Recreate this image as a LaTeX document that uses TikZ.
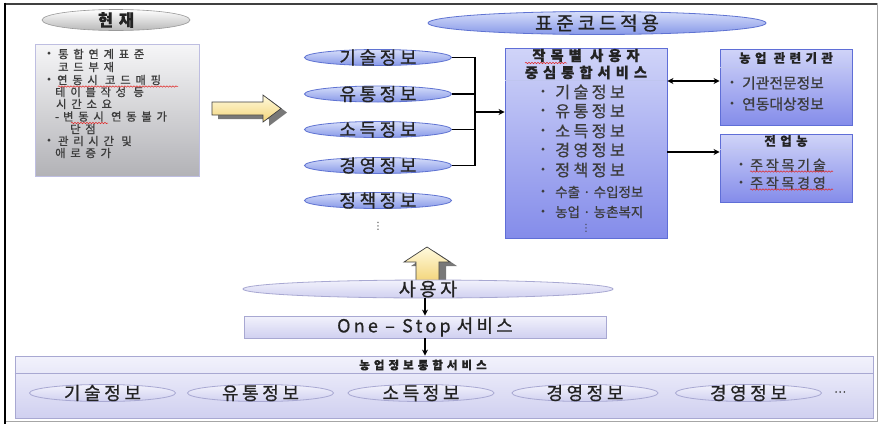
\documentclass[tikz,border=0pt]{standalone}
\usepackage{fontspec}
\newfontfamily\kr[FakeBold=0.8]{Noto Sans CJK KR}
\newfontfamily\krs[LetterSpace=20,FakeBold=0.8]{Noto Sans CJK KR}
\newfontfamily\krw[LetterSpace=35,FakeBold=0.5]{Noto Sans CJK KR}
\newfontfamily\krg[LetterSpace=42,FakeBold=0.9]{Noto Sans CJK KR}
\newfontfamily\krm[LetterSpace=18,FakeBold=0.6]{Noto Sans CJK KR}
\newfontfamily\dv{DejaVu Sans}
\usetikzlibrary{shapes.geometric,arrows.meta,decorations.pathmorphing}
\definecolor{ellTop}{RGB}{214,222,250}
\definecolor{ellBot}{RGB}{135,152,232}
\definecolor{ellBorder}{RGB}{95,115,210}
\definecolor{svcTop}{RGB}{208,212,248}
\definecolor{svcBot}{RGB}{132,140,234}
\definecolor{svcBorder}{RGB}{95,110,215}
\definecolor{grayTop}{RGB}{246,246,248}
\definecolor{grayBot}{RGB}{178,178,182}
\definecolor{grayBorder}{RGB}{190,190,225}
\definecolor{lavTop}{RGB}{242,242,252}
\definecolor{lavBot}{RGB}{208,208,240}
\definecolor{lavBorder}{RGB}{168,168,210}
\definecolor{yelTop}{RGB}{255,250,222}
\definecolor{yelBot}{RGB}{243,212,120}
\definecolor{txtDark}{RGB}{35,35,35}
\definecolor{txtGray}{RGB}{60,60,60}
\definecolor{shadowGray}{RGB}{120,120,120}
\definecolor{spellRed}{RGB}{225,40,40}
\begin{document}
\begin{tikzpicture}[x=1pt,y=-1pt,
  ellTxt/.style={font={\krs\fontsize{18}{18}\selectfont}, text=txtDark, inner sep=0pt},
  blueell/.style={ellipse, draw=ellBorder, line width=0.8pt, top color=ellTop, bottom color=ellBot,
    inner sep=0pt, minimum width=147pt, minimum height=16pt, label={[ellTxt]center:#1}},
  lavell/.style={ellipse, draw=lavBorder, line width=0.8pt, top color=lavTop, bottom color=lavBot,
    inner sep=0pt, minimum width=146pt, minimum height=17pt, label={[ellTxt]center:#1}},
  bluebox/.style={draw=svcBorder, line width=0.9pt, top color=svcTop, bottom color=svcBot, inner sep=0pt},
  lavbox/.style={draw=lavBorder, line width=0.8pt, top color=lavTop, bottom color=lavBot, inner sep=0pt},
  sepline/.style={draw=white!60!svcBorder, line width=0.8pt},
  bigitem/.style={font={\krs\fontsize{16.3}{17}\selectfont}, text=txtGray, anchor=west, inner sep=0pt},
  smallitem/.style={font={\kr\fontsize{13.5}{14}\selectfont}, text=txtGray, anchor=west, inner sep=0pt},
  rightitem/.style={font={\kr\fontsize{14.8}{15}\selectfont}, text=txtGray, anchor=west, inner sep=0pt},
  rightitemsp/.style={font={\krs\fontsize{14}{14}\selectfont}, text=txtGray, anchor=west, inner sep=0pt},
  bul/.style={font={\kr\fontsize{11}{12}\selectfont}, text=txtGray, inner sep=0pt},
  graytxt/.style={font={\krg\fontsize{11.3}{12}\selectfont}, text=txtGray, anchor=west, inner sep=0pt},
  hdr/.style={font={\krw\bfseries\fontsize{12.5}{13}\selectfont}, text=txtDark, inner sep=0pt},
  vdots/.style={font={\dv\fontsize{10}{11}\selectfont}, text=txtGray, inner sep=0pt},
  conn/.style={draw=black, line width=1.3pt},
  tip/.style={-{Stealth[length=6pt,width=6pt]}},
  spell/.style={draw=spellRed, line width=0.5pt, decorate, decoration={snake, amplitude=0.7pt, segment length=3pt}},
  yel/.style={draw=black!75, line width=0.7pt, top color=yelTop, bottom color=yelBot},
  shade/.style={fill=shadowGray}
]
\useasboundingbox (0,0) rectangle (881,426);
\fill[white] (0,0) rectangle (881,426);

% frame
\draw[line width=1pt, draw=black!35] (877,3) -- (877,421) -- (5,421);
\draw[line width=2pt, draw=black!75] (5,3.5) -- (877,3.5);
\draw[line width=2.5pt] (5,2.5) -- (5,424);

% ---- current state (left)
\node[ellipse, draw=black!40, line width=0.6pt, top color=white, bottom color=black!28,
  minimum width=148pt, minimum height=21pt, inner sep=0pt,
  label={[font={\krw\bfseries\fontsize{16.5}{17}\selectfont}, text=txtDark, inner sep=0pt]center:현재}] (now) at (116,20) {};

\node[draw=grayBorder, line width=0.8pt, top color=grayTop, bottom color=grayBot,
  minimum width=164pt, minimum height=132pt, inner sep=0pt] (cur) at (117,110) {};
\node[bul] (b1) at (49,54) {•};
\node[graytxt] (c1) at (58,54) {통합연계표준};
\node[graytxt] (c2) at (58,67) {코드부재};
\node[bul] (b2) at (49,80) {•};
\node[graytxt] (c3) at (57,80) {연동시 코드매핑};
\node[graytxt] (c4) at (55,92) {테이블작성 등};
\node[graytxt] (c5) at (56,104) {시간소요};
\node[graytxt] (c6) at (55,116.5) {-\hspace{4pt}변동시 연동불가};
\node[graytxt] (c7) at (70,129) {단점};
\node[bul] (b3) at (49,141) {•};
\node[graytxt] (c8) at (58,141) {관리시간 및};
\node[graytxt] (c9) at (55,153) {애로증가};
\draw[spell] (58,86.5) -- (178,86.5);
\draw[spell] (71,123) -- (108,123);

% yellow right arrow
\fill[shade] (218,106) -- (269,106) -- (269,99) -- (287,112.5) -- (269,126) -- (269,119) -- (218,119) -- cycle;
\path[yel] (212,102) -- (263,102) -- (263,95) -- (281,108.5) -- (263,122) -- (263,115) -- (212,115) -- cycle;

% ---- standard code applied
\node[ellipse, draw=ellBorder, line width=0.8pt, top color=ellTop, bottom color=ellBot,
  minimum width=338pt, minimum height=23pt, inner sep=0pt,
  label={[font={\krs\fontsize{19}{19}\selectfont}, text=txtDark, inner sep=0pt]center:표준코드적용}] (std) at (597,23) {};

\node[blueell=기술정보] (e1) at (378,57.5) {};
\node[blueell=유통정보] (e2) at (378,94) {};
\node[blueell=소득정보] (e3) at (378,129.5) {};
\node[blueell=경영정보] (e4) at (378,165.5) {};
\node[blueell=정책정보] (e5) at (378,200.5) {};
\node[vdots] (edots) at (378,226) {⋮};

% big service box
\node[bluebox, minimum width=162pt, minimum height=190pt] (svc) at (586,143) {};
\draw[sepline] (svc.west |- 0,80) -- (svc.east |- 0,80);
\node[font={\krw\bfseries\fontsize{14.3}{17}\selectfont}, text=txtDark, align=center, inner sep=0pt] (svch) at (586,64) {작목별 사용자\\중심통합서비스};
\draw[spell] (525,63) -- (567,63);
\foreach \y/\t [count=\i] in {92/기술정보,111/유통정보,131/소득정보,150/경영정보,170/정책정보}{
  \node[bul] (sb\i) at (543,\y) {•};
  \node[bigitem] (si\i) at (555,\y) {\t};
}
\node[bul] (sb6) at (543,192) {•};
\node[smallitem] (si6) at (555,192) {수출 · 수입정보};
\node[bul] (sb7) at (543,212) {•};
\node[smallitem] (si7) at (555,212) {농업 · 농촌복지};
\node[vdots] (sdots) at (586,228) {⋮};

% connectors from ellipses
\coordinate (j) at (475,112);
\draw[conn] (e1.east) -| (j);
\draw[conn] (e2.east) -| (j);
\draw[conn] (e3.east) -| (j);
\draw[conn] (e4.east) -| (j);
\draw[conn, tip] (j) -- (svc.west |- j);

% right boxes
\node[bluebox, minimum width=132pt, minimum height=76pt] (org) at (786,87) {};
\draw[sepline] (org.west |- 0,67) -- (org.east |- 0,67);
\node[hdr] (orgh) at (786,58) {농업 관련기관};
\node[bul] (ob1) at (732,83) {•};
\node[rightitem] (oi1) at (742,83) {기관전문정보};
\node[bul] (ob2) at (732,104) {•};
\node[rightitem] (oi2) at (742,104) {연동대상정보};

\node[bluebox, minimum width=132pt, minimum height=68pt] (farm) at (786,168) {};
\draw[sepline] (farm.west |- 0,149) -- (farm.east |- 0,149);
\node[hdr] (farmh) at (786,141) {전업농};
\node[bul] (fb1) at (741,165) {•};
\node[rightitemsp] (fi1) at (750,165) {주작목기술};
\node[bul] (fb2) at (741,183) {•};
\node[rightitemsp] (fi2) at (750,183) {주작목경영};
\draw[spell] (750,171.5) -- (833,171.5);
\draw[spell] (750,189.5) -- (833,189.5);

\draw[conn, {Stealth[length=6pt,width=6pt]}-{Stealth[length=6pt,width=6pt]}] (svc.east |- 0,81) -- (org.west |- 0,81);
\draw[conn, tip] (svc.east |- 0,152) -- (farm.west |- 0,152);

% yellow up arrow
\begin{scope}[shift={(7,4)}]
\fill[shade] (427,247) -- (450,262) -- (439,262) -- (439,282) -- (416,282) -- (416,262) -- (404,262) -- cycle;
\end{scope}
\path[yel] (427,247) -- (450,262) -- (439,262) -- (439,282) -- (416,282) -- (416,262) -- (404,262) -- cycle;

% ---- bottom part
\node[ellipse, draw=lavBorder, line width=0.8pt, top color=lavTop, bottom color=lavBot,
  minimum width=370pt, minimum height=18pt, inner sep=0pt,
  label={[font={\krs\fontsize{18.5}{19}\selectfont}, text=txtDark, inner sep=0pt]center:사용자}] (user) at (428,289) {};
\node[lavbox, minimum width=362pt, minimum height=22pt,
  label={[font={\krm\fontsize{18}{18}\selectfont}, text=txtDark, inner sep=0pt]center:One – Stop\hspace{6pt}서비스}] (one) at (425,327) {};
\node[lavbox, minimum width=858pt, minimum height=62pt] (agri) at (444,387) {};
\draw[draw=lavBorder, line width=0.6pt] (agri.west |- 0,373) -- (agri.east |- 0,373);
\node[font={\krw\bfseries\fontsize{11.5}{12}\selectfont}, text=txtDark, inner sep=0pt] (agrih) at (423,365) {농업정보통합서비스};

\draw[conn, tip] (user.south -| one.north) -- (one.north);
\draw[conn, tip] (one.south) -- (one.south |- agri.north);

\node[lavell=기술정보] (f1) at (102.5,393) {};
\node[lavell=유통정보] (f2) at (260.5,393) {};
\node[lavell=소득정보] (f3) at (421,393) {};
\node[lavell=경영정보] (f4) at (585,393) {};
\node[lavell=경영정보] (f5) at (748.5,393) {};
\node[font={\kr\fontsize{11}{12}\selectfont}, text=txtGray, inner sep=0pt] (fdots) at (840,392) {⋯};
\end{tikzpicture}
\end{document}
